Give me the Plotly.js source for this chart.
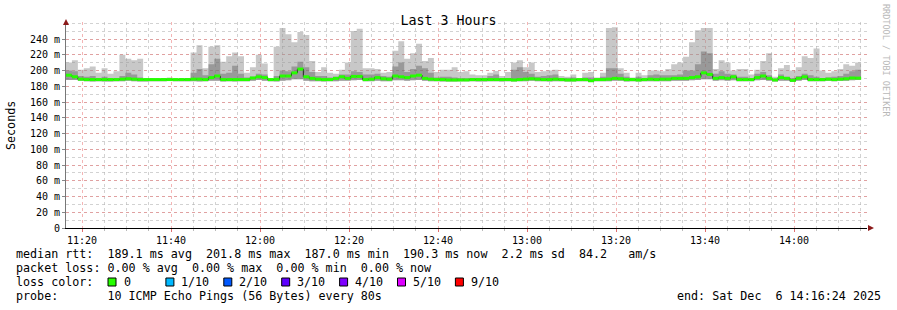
<!DOCTYPE html>
<html><head><meta charset="utf-8">
<script src="https://cdn.plot.ly/plotly-3.0.1.min.js"></script>
<style>html,body{margin:0;padding:0;background:#fff}#chart{width:897px;height:310px}</style>
</head><body><div id="chart"></div>
<script>
// ---- data ----
const startUtc = [2025, 11, 6, 11, 16, 24];   // Sat Dec 6 2025 11:16:24
const stepSeconds = 80;
const spanHours = 3;

// lowest ping of each step (ms)
const smokeMin = [
 188,188,187,186.5,186,186.5,186,186,186.5,186.5,187,186.5,186,186,186.5,186.5,186.5,187,186.5,186.5,186.5,186.5,186,186.5,187,187,186,186.5,186,186.5,186.5,187,188,187,
 186.5,186,187,187.5,189,189,187,186.5,186.5,186,186.5,186.5,187,187,187.5,188,186.5,186.5,187,186.5,186.5,187.5,187.5,187,187.5,188,187,186.5,186.5,186,186,186,186.5,186.5,
 186.5,186,186,186.5,186.5,186,186.5,186,186.5,186.5,187,186.5,186.5,186,186.5,186.5,186,186,186.5,186.5,185.5,186.5,186.5,186.5,187,187,186,186.5,186,186.5,186.5,186.5,186.5,186.5,
 187,187,187,187.5,188,189,189,187,187.5,187,187.5,186.5,186.5,186.5,187.5,188,187,186,187,187,185.5,187,188,186.5,186.5,186.5,187,186.5,187,187,187.5,188
];
// highest ping of each step (ms)
const smokeMax = [
 210,213,201,203,205,197,203,196,199,220,215,213,215,190,190,189,190,191,189,190,190,223,232,203,230,232,211,218,223,218,197,204,220,209,
 190,230,254,246,236,249,245,212,198,204,197,196,201,210,250,253,203,203,202,197,198,225,237,215,222,234,212,216,198,201,201,204,198,199,
 195,194,194,197,199.5,193,198,210,213,204,210,198,199,200,201,193,192,195,190,197,198,191,197,254,255,203,197,191,197,194,200,200,199,202,
 208,210,217.5,236,251,254,254,202,213,210,200,202,202,195,201,212,222,192,203,207,200,204,218,216,228,200,197,199,202,208,206,210
];
// upper edge of the inner (darker) smoke of each step (ms)
const smokeInner = [
 200,199,193,192,193,190,192,190,190,193,197,195,191,189,189,189,190,189,189,189,190,197,202,194,208,215,196,197,206,196,191,192,196,195,
 189,193,200,199,205,211,204,198,193,193,191,192,195,195,199,198,195,195,196,193,192,205,210,198,202,206,203,197,191,192,192,191,190,190,
 190,190,190,193,195,190,190,201,204,198,196,192,193,194,195,190,190,191,189,191,191,189,192,203,203,196,192,189,192,190,194,195,194,194,
 194,195,200,200,208,224,222,196,199,196,195,192,192,190,196,198,194,189,195,192,190,193,196,194,192,190,191,192,193,196,199,201
];
// median rtt of each step (ms)
const medianRtt = [
 194,192,189,188.5,188.5,188.5,188.5,188.5,188.5,189,189.5,189,188.5,188.5,188.5,188.5,188.5,188.5,188.5,188.5,188.5,189,189,188.5,191,193,188.5,188.5,188.5,188.5,188.5,190.5,192,191,
 188.5,188.8,193,193,197,201.8,192,190,189,188.5,188.5,190,192,190,192.5,192.5,188.5,189,191,189.5,189,193,192,191,193,194,190,189,188.5,188.5,188,188,188,188,
 188.5,188.5,188.5,188.5,188.5,188.5,188.5,188,188.5,189,189.5,189,188.5,188.5,189,188.5,188,188,188.5,188.5,187.0,188.5,188.5,189,190,189.5,188.5,188.5,188,188.5,189,188.5,189,189,
 190,190,190,191,192,197,195,190,191,190,192,188.5,188.5,188.5,191,193,190,188,191,190,187.5,190,192,188.5,188.5,188.5,189,188.5,189,189.5,190.5,190.3
];

const yTickVals = [0,20,40,60,80,100,120,140,160,180,200,220,240];
const yTickText = ['0','20 m','40 m','60 m','80 m','100 m','120 m','140 m','160 m','180 m','200 m','220 m','240 m'];
const lossLabels = ['0','1/10','2/10','3/10','4/10','5/10','9/10'];
const lossColors = ['#26ff00','#00b8ff','#0059ff','#5e00ff','#7e00ff','#dd00ff','#ff0000'];
const titleText = 'Last 3 Hours';
const yTitle = 'Seconds';
const statsLines = [
 'median rtt:  189.1 ms avg  201.8 ms max  187.0 ms min  190.3 ms now  2.2 ms sd  84.2   am/s',
 'packet loss: 0.00 % avg  0.00 % max  0.00 % min  0.00 % now',
 'loss color:',
 'probe:       10 ICMP Echo Pings (56 Bytes) every 80s'
];
const endText = 'end: Sat Dec  6 14:16:24 2025';
const creditText = 'RRDTOOL / TOBI OETIKER';

// ---- build ----
const MONO = 'DejaVu Sans Mono, monospace';
const t0 = Date.UTC(...startUtc);
const stepMs = stepSeconds * 1000;
const n = medianRtt.length;
const xs = [];
for (let k = 0; k <= n; k++) xs.push(t0 + k * stepMs);
const ext = a => a.concat([a[a.length - 1]]);

// green median segments (no vertical joins)
const gx = [], gy = [];
for (let k = 0; k < n; k++) { gx.push(xs[k], xs[k + 1], null); gy.push(medianRtt[k], medianRtt[k], null); }

const base = {mode: 'lines', hoverinfo: 'skip', showlegend: false};
const clear = {shape: 'hv', width: 0, color: 'rgba(0,0,0,0)'};
const traces = [
  Object.assign({}, base, {x: xs, y: ext(smokeMin), line: clear}),
  Object.assign({}, base, {x: xs, y: ext(smokeMax), fill: 'tonexty', fillcolor: 'rgba(150,150,150,0.52)', line: clear}),
  Object.assign({}, base, {x: xs, y: ext(smokeMin), line: clear}),
  Object.assign({}, base, {x: xs, y: ext(smokeInner), fill: 'tonexty', fillcolor: 'rgba(95,95,95,0.45)', line: clear}),
  Object.assign({}, base, {x: xs, y: ext(medianRtt), line: {shape: 'hv', width: 1, color: '#202020'}}),
  Object.assign({}, base, {x: gx, y: gy, line: {width: 3, color: lossColors[0]}, connectgaps: false})
];

// pixel helpers for decorations (plot area: x 66..867, y 22..228)
const PL = 66, PR = 867, PT = 22, PB = 228;
const px = p => (p - PL) / (PR - PL);
const py = p => (PB - p) / (PB - PT);

const annotations = [];
const shapes = [];
const nb = s => s.replace(/ /g, '\u00a0');
const lineY = [254, 268, 282, 296];
const txtFont = {family: MONO, size: 11.7, color: '#000'};
statsLines.forEach((s, i) => annotations.push({
  text: nb(s), xref: 'paper', yref: 'paper', x: px(14), y: py(lineY[i]),
  xanchor: 'left', yanchor: 'middle', showarrow: false, font: txtFont
}));
lossLabels.forEach((lab, i) => {
  const sx = 108 + i * 57.9;
  shapes.push({type: 'rect', xref: 'paper', yref: 'paper', x0: px(sx), x1: px(sx + 8), y0: py(286), y1: py(278),
    fillcolor: lossColors[i], line: {color: '#000', width: 1}});
  annotations.push({text: nb(lab), xref: 'paper', yref: 'paper', x: px(sx + 13.5), y: py(282),
    xanchor: 'left', yanchor: 'middle', showarrow: false, font: txtFont});
});
annotations.push({text: nb(endText), xref: 'paper', yref: 'paper', x: px(883), y: py(296),
  xanchor: 'right', yanchor: 'middle', showarrow: false, font: txtFont});
annotations.push({text: yTitle, xref: 'paper', yref: 'paper', x: px(11), y: py(126), textangle: -90,
  xanchor: 'center', yanchor: 'middle', showarrow: false, font: txtFont});
annotations.push({text: nb(creditText), xref: 'paper', yref: 'paper', x: px(886), y: py(60), textangle: 90,
  xanchor: 'center', yanchor: 'middle', showarrow: false, font: {family: MONO, size: 8.5, color: '#b8b8b8'}});

// axis arrows
shapes.push({type: 'path', xref: 'paper', yref: 'paper',
  path: `M ${px(63)} ${py(25)} L ${px(69)} ${py(25)} L ${px(66)} ${py(19)} Z`, fillcolor: '#8b1a1a', line: {width: 0}});
shapes.push({type: 'path', xref: 'paper', yref: 'paper',
  path: `M ${px(868)} ${py(225)} L ${px(868)} ${py(231)} L ${px(874)} ${py(228)} Z`, fillcolor: '#8b1a1a', line: {width: 0}});

const majorGrid = 'rgba(235,120,120,0.55)';
const minorGrid = 'rgba(180,180,180,0.6)';
const layout = {
  width: 897, height: 310,
  margin: {l: PL, r: 897 - PR, t: PT, b: 310 - PB, pad: 0},
  paper_bgcolor: '#fff', plot_bgcolor: '#fff',
  showlegend: false,
  title: {text: titleText, font: {family: MONO, size: 13.3, color: '#000'}, xref: 'container', yref: 'container',
          x: 0.5, xanchor: 'center', y: 1 - 20 / 310, yanchor: 'middle'},
  xaxis: {
    type: 'date', range: [t0, t0 + spanHours * 3600 * 1000],
    tickformat: '%H:%M', tick0: '2025-12-06 11:20:00', dtick: 20 * 60 * 1000,
    showgrid: true, gridcolor: majorGrid, griddash: 'dot', gridwidth: 1,
    minor: {tick0: '2025-12-06 11:20:00', dtick: 5 * 60 * 1000, showgrid: true, gridcolor: minorGrid, griddash: 'dot',
            ticks: 'outside', ticklen: 2, tickcolor: '#bbbbbb'},
    ticks: 'outside', ticklen: 3, tickcolor: '#e07070',
    showline: true, linecolor: '#000', linewidth: 1, zeroline: false,
    tickfont: {family: MONO, size: 10, color: '#000'}, fixedrange: true
  },
  yaxis: {
    range: [0, (PB - PT) / 0.7875], tickmode: 'array', tickvals: yTickVals, ticktext: yTickText,
    showgrid: true, gridcolor: majorGrid, griddash: 'dot', gridwidth: 1,
    minor: {tickmode: 'linear', tick0: 0, dtick: 10, showgrid: true, gridcolor: minorGrid, griddash: 'dot'},
    ticks: 'outside', ticklen: 3, tickcolor: '#888',
    showline: true, linecolor: '#777', linewidth: 1, zeroline: false,
    tickfont: {family: MONO, size: 10, color: '#000'}, fixedrange: true
  },
  annotations: annotations,
  shapes: shapes
};

Plotly.newPlot('chart', traces, layout, {displayModeBar: false, staticPlot: true});
</script>
</body></html>
